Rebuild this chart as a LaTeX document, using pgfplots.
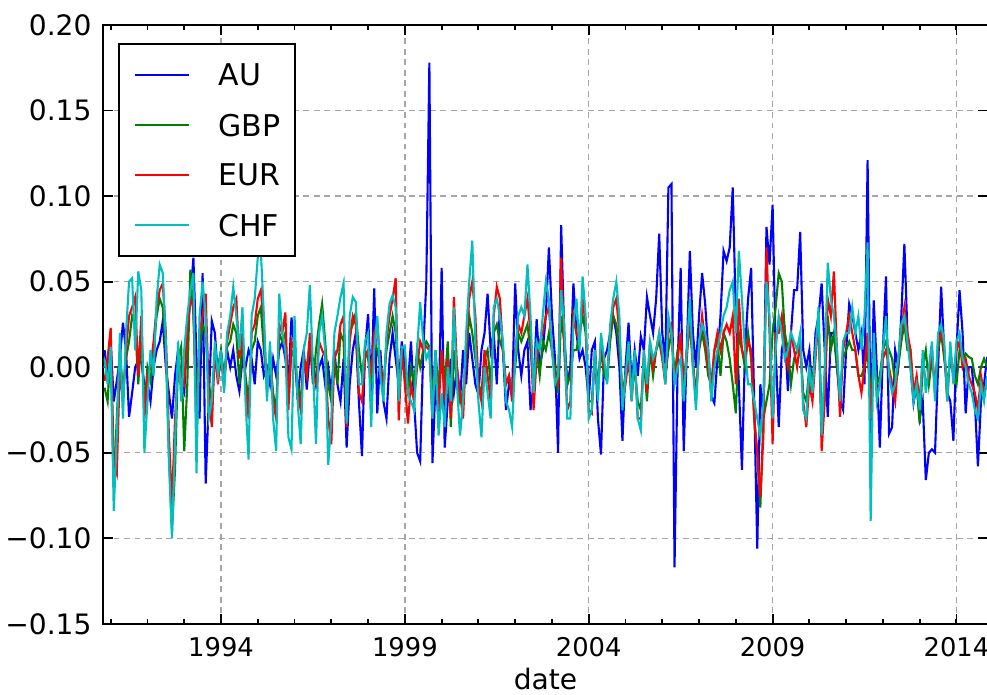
\documentclass[border=0pt]{standalone}
\usepackage{fontspec}
\setmainfont{DejaVu Sans}
\usepackage{pgfplots}
\pgfplotsset{compat=1.18}
\usepackage{pgfplotstable}

\definecolor{mplb}{rgb}{0,0,1}
\definecolor{mplg}{rgb}{0,0.5,0}
\definecolor{mplr}{rgb}{1,0,0}
\definecolor{mplc}{rgb}{0,0.75,0.75}

% monthly returns, i = months since Nov 1990
\pgfplotstableread{
i AU GBP EUR CHF
0 0.010 -0.012 -0.008 0.005
1 -0.005 -0.020 0.005 -0.010
2 0.015 0.010 0.023 0.012
3 -0.020 -0.070 -0.055 -0.084
4 -0.008 -0.030 -0.062 -0.040
5 0.005 0.010 0.000 0.020
6 0.026 -0.015 -0.020 -0.030
7 0.010 0.005 0.010 0.020
8 -0.029 0.015 0.030 0.050
9 -0.015 0.030 0.035 0.052
10 0.000 0.025 0.041 0.010
11 0.004 -0.010 -0.005 0.056
12 0.003 0.020 0.030 0.045
13 -0.010 -0.025 -0.030 -0.050
14 -0.009 0.000 -0.005 -0.020
15 -0.020 -0.008 0.000 0.010
16 0.000 0.010 0.015 -0.005
17 0.010 0.030 0.035 0.040
18 0.015 0.040 0.045 0.060
19 0.027 0.035 0.049 0.055
20 0.000 0.010 0.020 0.015
21 -0.015 -0.050 -0.040 -0.055
22 -0.030 -0.095 -0.080 -0.100
23 -0.005 -0.060 -0.030 -0.045
24 0.010 0.005 0.000 0.015
25 -0.010 0.012 -0.005 -0.020
26 -0.015 -0.049 -0.010 0.010
27 0.020 -0.010 0.020 0.030
28 0.040 0.057 0.040 0.045
29 0.064 0.030 0.035 0.055
30 0.005 -0.020 -0.040 -0.062
31 -0.030 0.010 0.020 0.030
32 0.055 0.025 0.030 0.050
33 -0.068 0.020 0.043 0.030
34 -0.020 -0.010 -0.015 -0.030
35 0.027 -0.020 -0.035 -0.020
36 0.020 0.005 0.010 0.015
37 -0.005 0.000 -0.010 -0.005
38 0.005 0.010 0.008 0.010
39 -0.008 -0.005 -0.012 -0.015
40 0.010 0.012 0.015 0.020
41 0.000 0.015 0.025 0.030
42 0.010 0.025 0.035 0.047
43 -0.005 0.020 0.040 0.030
44 -0.014 -0.010 0.005 0.010
45 0.005 0.015 0.020 0.035
46 0.000 -0.005 -0.010 -0.020
47 0.010 -0.020 -0.030 -0.054
48 0.005 0.010 0.020 0.030
49 -0.010 0.015 0.025 0.040
50 0.015 0.030 0.040 0.064
51 0.010 0.035 0.045 0.068
52 -0.005 0.010 0.026 0.030
53 0.000 -0.010 -0.015 -0.020
54 -0.010 0.005 0.010 0.015
55 0.005 -0.015 -0.020 -0.030
56 -0.005 -0.025 -0.030 -0.049
57 0.010 0.020 0.025 0.043
58 0.015 0.015 0.020 0.020
59 0.005 0.020 0.032 0.010
60 -0.010 -0.020 -0.025 -0.041
61 0.029 0.010 0.015 -0.048
62 0.010 0.005 0.010 0.030
63 -0.019 -0.010 -0.015 -0.020
64 0.000 -0.020 -0.025 -0.045
65 0.010 0.005 0.005 0.010
66 -0.013 0.000 -0.005 0.020
67 0.010 0.015 0.020 0.048
68 0.005 -0.010 -0.005 0.000
69 -0.010 0.010 -0.010 -0.045
70 0.000 0.025 0.015 0.020
71 0.005 0.037 0.010 0.030
72 -0.010 0.015 0.006 0.010
73 0.000 -0.010 -0.030 -0.057
74 -0.015 -0.020 -0.045 -0.030
75 0.010 0.005 0.005 0.020
76 -0.010 -0.010 0.010 0.030
77 -0.020 0.020 0.025 0.041
78 0.005 0.015 0.030 0.049
79 -0.047 -0.030 -0.035 -0.033
80 -0.010 0.020 0.015 0.030
81 0.010 0.025 0.030 0.041
82 0.020 0.032 0.025 0.038
83 -0.020 0.010 -0.015 -0.010
84 -0.052 -0.005 -0.020 -0.010
85 0.010 0.010 0.005 0.015
86 0.031 0.005 0.010 0.020
87 -0.015 -0.010 -0.005 -0.035
88 0.046 0.015 0.020 0.010
89 -0.027 0.010 0.026 0.030
90 0.010 0.000 0.000 -0.005
91 -0.020 -0.010 -0.015 -0.020
92 -0.030 0.010 0.015 0.020
93 0.005 0.020 0.030 0.037
94 0.020 0.030 0.040 0.042
95 0.005 0.020 0.052 0.035
96 -0.010 -0.010 -0.031 -0.020
97 0.015 0.005 0.010 0.012
98 0.000 -0.005 -0.010 0.012
99 -0.010 -0.015 -0.033 -0.015
100 0.015 0.000 -0.010 -0.020
101 -0.020 -0.010 -0.020 -0.025
102 -0.050 0.010 0.000 0.010
103 -0.055 0.000 0.015 0.038
104 0.010 0.010 0.010 0.015
105 0.050 0.015 0.012 0.005
106 0.178 0.012 0.010 0.010
107 -0.056 -0.020 -0.030 -0.030
108 -0.010 0.010 0.005 0.010
109 -0.030 -0.015 -0.025 -0.040
110 0.058 0.010 0.010 -0.015
111 -0.047 -0.010 -0.020 -0.035
112 -0.020 0.015 0.005 0.000
113 0.005 -0.035 -0.030 -0.020
114 -0.015 0.010 0.041 0.035
115 0.000 -0.010 0.000 -0.010
116 -0.020 -0.020 -0.015 -0.040
117 0.010 -0.015 -0.030 -0.020
118 -0.010 0.005 0.010 0.020
119 0.020 0.030 0.040 0.050
120 0.005 0.020 0.050 0.074
121 -0.010 0.005 0.030 0.015
122 -0.016 -0.010 -0.010 -0.020
123 0.010 -0.015 -0.020 -0.041
124 0.020 0.005 0.010 0.000
125 0.043 0.010 -0.005 -0.015
126 0.010 -0.010 -0.020 -0.030
127 0.020 0.020 0.030 0.035
128 -0.010 0.025 0.047 0.040
129 0.035 0.015 0.040 0.030
130 0.010 0.010 0.010 0.015
131 -0.025 -0.010 -0.010 -0.020
132 -0.010 -0.005 -0.005 -0.025
133 -0.015 -0.015 -0.020 -0.035
134 0.049 0.000 0.010 0.005
135 0.010 0.020 0.025 0.030
136 -0.005 0.015 0.020 0.035
137 0.010 0.020 0.030 0.030
138 0.015 0.025 0.040 0.060
139 -0.025 0.010 0.020 0.030
140 -0.010 -0.010 -0.025 -0.015
141 0.028 0.010 0.005 0.015
142 0.000 -0.005 0.015 0.010
143 0.010 0.015 0.020 0.030
144 0.030 0.010 0.030 0.050
145 0.070 0.020 0.035 0.040
146 0.030 0.010 0.010 0.010
147 0.005 0.000 -0.005 -0.010
148 -0.050 -0.015 -0.010 -0.005
149 0.083 0.030 0.064 0.045
150 0.020 0.015 0.010 0.025
151 -0.010 -0.010 -0.025 -0.030
152 0.000 -0.005 -0.020 -0.030
153 0.049 0.010 0.030 0.025
154 0.020 0.010 0.020 0.040
155 0.005 0.020 0.015 0.010
156 0.010 0.030 0.040 0.053
157 0.000 0.020 0.025 0.030
158 -0.020 -0.020 -0.025 -0.030
159 0.010 -0.020 -0.027 -0.025
160 0.015 0.005 0.010 0.010
161 -0.030 -0.010 -0.015 -0.020
162 -0.051 0.010 0.015 0.020
163 0.005 -0.005 0.000 0.005
164 0.010 -0.008 -0.005 -0.010
165 0.020 0.015 0.020 0.025
166 0.030 0.030 0.035 0.040
167 0.020 0.025 0.040 0.050
168 0.000 0.010 0.020 0.030
169 -0.043 -0.015 -0.020 -0.025
170 0.000 -0.005 -0.010 -0.005
171 0.026 0.010 0.005 0.015
172 -0.010 -0.015 -0.020 -0.020
173 0.010 0.000 0.005 0.010
174 -0.005 -0.020 -0.030 -0.030
175 0.018 -0.025 -0.030 -0.037
176 0.010 0.005 0.010 0.010
177 0.041 -0.020 -0.015 -0.010
178 0.030 0.010 0.015 0.015
179 0.020 -0.005 0.000 0.005
180 0.040 0.010 0.010 0.010
181 0.078 0.015 0.020 0.020
182 0.020 0.005 0.005 0.010
183 0.002 -0.005 -0.010 -0.010
184 0.105 0.010 0.020 0.030
185 0.107 0.020 0.025 0.020
186 -0.117 -0.005 -0.010 -0.010
187 0.000 0.010 0.005 0.000
188 0.058 0.015 0.020 0.005
189 -0.049 -0.010 -0.010 -0.020
190 0.010 0.010 0.005 0.010
191 0.068 0.025 0.030 0.040
192 0.020 0.000 0.005 0.000
193 0.000 -0.015 -0.020 -0.025
194 0.030 0.010 0.010 0.015
195 0.055 0.020 0.030 0.025
196 0.037 0.010 0.015 0.020
197 0.010 -0.005 0.000 0.010
198 -0.017 -0.010 -0.015 -0.020
199 -0.021 0.010 0.010 0.000
200 0.005 0.015 0.020 0.010
201 0.030 -0.005 0.010 0.020
202 0.068 0.020 0.020 0.030
203 0.062 0.015 0.025 0.035
204 0.070 0.005 0.020 0.045
205 0.105 -0.010 0.030 0.050
206 0.030 -0.027 -0.010 0.020
207 -0.010 0.020 0.040 0.068
208 -0.060 0.010 0.010 0.040
209 0.010 0.000 0.005 0.010
210 0.040 0.020 0.015 -0.010
211 0.058 0.005 0.010 -0.010
212 -0.020 -0.030 -0.030 -0.020
213 -0.106 -0.050 -0.050 -0.030
214 -0.010 -0.082 -0.076 -0.040
215 -0.030 -0.030 -0.040 -0.020
216 0.082 -0.020 0.070 0.050
217 0.060 -0.010 0.020 0.030
218 0.095 0.020 -0.045 -0.030
219 0.010 0.035 0.020 0.010
220 -0.035 0.055 0.020 0.030
221 0.010 0.050 0.030 0.020
222 0.020 0.020 0.010 0.005
223 -0.014 0.010 0.000 0.010
224 0.020 -0.010 0.020 0.020
225 0.045 0.005 0.010 0.015
226 0.045 0.010 0.000 0.010
227 0.079 0.015 0.015 0.020
228 0.010 -0.015 -0.020 -0.025
229 0.000 -0.020 -0.035 -0.030
230 0.010 0.000 -0.010 0.000
231 -0.015 -0.010 -0.020 -0.015
232 0.020 0.010 0.005 0.010
233 0.030 0.025 0.030 0.035
234 0.049 -0.030 -0.049 -0.040
235 0.010 -0.010 -0.020 0.000
236 -0.029 0.030 0.040 0.061
237 0.020 0.010 0.030 0.040
238 0.020 0.020 0.056 0.030
239 0.000 0.000 0.010 0.010
240 -0.020 -0.015 -0.029 -0.020
241 -0.025 0.005 0.010 0.015
242 0.010 0.010 0.020 0.020
243 0.037 0.015 0.030 0.020
244 0.030 0.010 0.020 0.035
245 0.020 0.010 0.010 0.020
246 0.010 -0.005 -0.005 0.030
247 0.020 -0.005 -0.015 0.010
248 -0.010 0.000 0.000 0.030
249 0.121 0.010 0.020 0.073
250 -0.040 -0.020 -0.030 -0.090
251 0.039 0.005 0.010 0.020
252 0.000 -0.010 -0.015 -0.020
253 -0.047 -0.005 -0.010 -0.010
254 0.010 0.010 0.005 0.010
255 0.053 0.015 0.010 0.030
256 -0.039 0.010 0.000 -0.005
257 -0.035 0.005 -0.010 -0.015
258 0.010 -0.010 -0.020 -0.010
259 0.000 0.000 0.005 0.005
260 0.030 0.015 0.020 0.025
261 0.072 0.025 0.035 0.030
262 0.020 0.010 0.020 0.015
263 0.000 0.010 0.010 0.000
264 -0.021 -0.015 -0.015 -0.020
265 -0.010 -0.010 -0.005 -0.010
266 -0.030 -0.033 -0.020 -0.025
267 -0.020 0.000 0.005 0.010
268 -0.066 0.010 -0.010 -0.015
269 -0.050 -0.010 -0.005 0.000
270 -0.048 0.005 0.010 0.015
271 -0.050 -0.010 -0.015 -0.020
272 0.000 0.010 0.015 0.020
273 0.047 0.020 0.020 0.025
274 0.010 0.005 0.010 0.015
275 -0.015 -0.010 -0.020 -0.020
276 -0.020 0.005 0.010 0.015
277 -0.043 -0.005 -0.005 -0.010
278 0.010 -0.010 0.010 0.015
279 0.045 0.010 0.015 0.020
280 0.020 0.005 0.000 0.005
281 -0.027 0.008 0.005 0.000
282 0.000 0.006 -0.005 -0.010
283 0.000 0.005 -0.010 -0.015
284 -0.020 -0.005 -0.015 -0.025
285 -0.058 -0.010 -0.025 -0.030
286 -0.020 0.000 -0.005 -0.010
287 -0.010 0.005 -0.015 -0.020
288 0.006 0.000 -0.010 -0.005
}\fx

\begin{document}
\begin{tikzpicture}
\begin{axis}[
  scale only axis,
  width=13.28cm, height=8.985cm,
  xmin=1990.79, xmax=2014.86,
  ymin=-0.15, ymax=0.20,
  xtick={1994,1999,2004,2009,2014},
  xticklabels={1994,1999,2004,2009,2014},
  minor xtick={1991,...,2014},
  ytick={-0.15,-0.10,-0.05,0,0.05,0.10,0.15,0.20},
  yticklabels={−0.15,−0.10,−0.05,0.00,0.05,0.10,0.15,0.20},
  tick align=inside,
  major tick length=0.15cm,
  minor tick length=0.075cm,
  tick style={black, line width=0.8pt},
  axis line style={line width=0.9pt},
  xmajorgrids, ymajorgrids,
  major grid style={gray!70, line width=0.6pt, dash pattern=on 2.5pt off 2pt},
  tick label style={font=\fontsize{12}{14}\selectfont, inner sep=0pt},
  yticklabel style={xshift=-0.165cm},
  xticklabel style={yshift=-0.19cm, font=\fontsize{11}{13}\selectfont},
  xlabel={date},
  xlabel style={font=\fontsize{12}{14}\selectfont, at={(axis description cs:0.5,0)},
    anchor=north, inner sep=0pt, yshift=-0.66cm},
  legend cell align=left,
  legend image code/.code={\draw[#1] (0cm,0cm) -- (0.81cm,0cm);},
  legend style={at={(0.017,0.97)}, anchor=north west, draw=black,
    line width=0.9pt, fill=white, font=\fontsize{12.8}{14}\selectfont,
    row sep=0.42cm, inner xsep=0.22cm, inner ysep=0.3cm,
    nodes={inner sep=0pt, text depth=0pt}},
  every axis plot/.append style={line width=0.9pt},
]
\draw[black!75, line width=0.6pt, dash pattern=on 2.5pt off 2pt]
  (axis cs:1990.79,0) -- (axis cs:2014.86,0);
\addplot[mplb] table[x expr=1990.833+\thisrow{i}/12, y=AU]{\fx};
\addlegendentry{\hspace{0.43cm}AU}
\addplot[mplg] table[x expr=1990.833+\thisrow{i}/12, y=GBP]{\fx};
\addlegendentry{\hspace{0.43cm}GBP}
\addplot[mplr] table[x expr=1990.833+\thisrow{i}/12, y=EUR]{\fx};
\addlegendentry{\hspace{0.43cm}EUR}
\addplot[mplc] table[x expr=1990.833+\thisrow{i}/12, y=CHF]{\fx};
\addlegendentry{\hspace{0.43cm}CHF}
\coordinate (cut) at (axis cs:2014.83,-0.15);
\end{axis}
\pgfresetboundingbox
\path[use as bounding box] ([xshift=-1.545cm,yshift=0.375cm]current axis.north west)
  rectangle ([yshift=-1.065cm]cut);
\end{tikzpicture}
\end{document}
